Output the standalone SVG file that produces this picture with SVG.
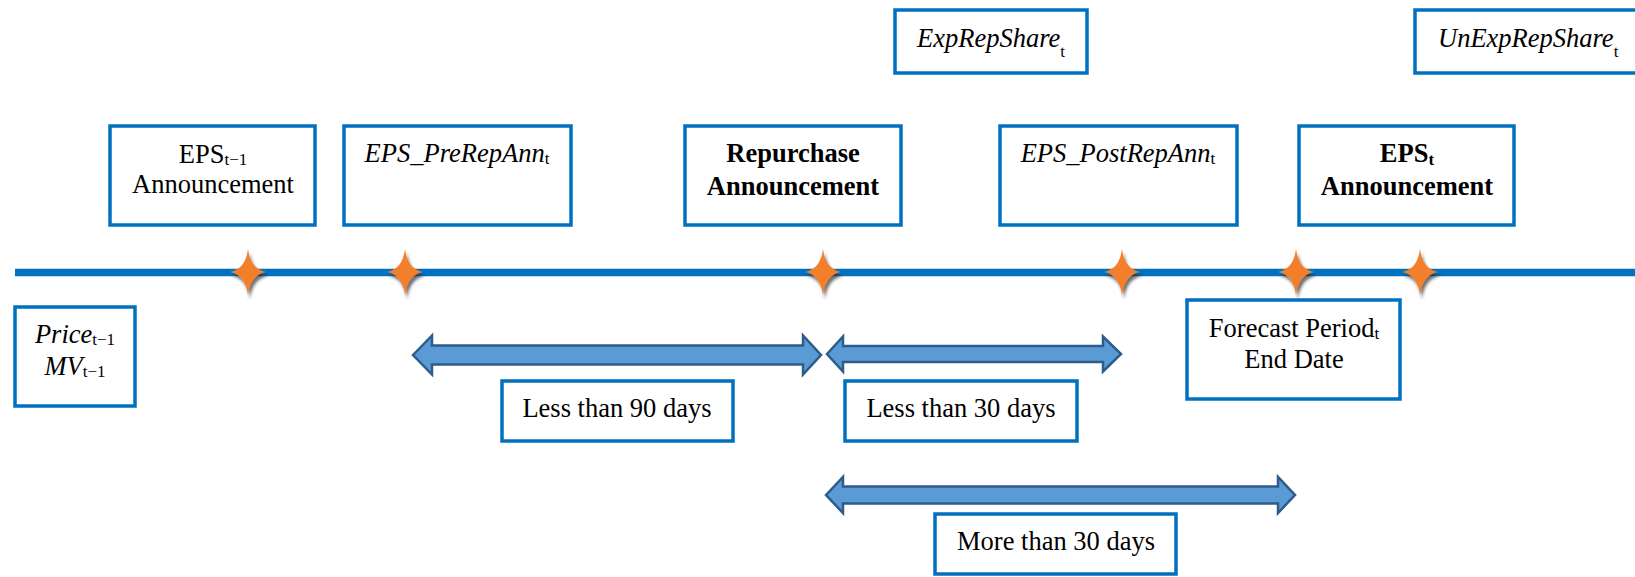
<svg xmlns="http://www.w3.org/2000/svg" width="1635" height="577" viewBox="0 0 1635 577">
<style>
.box{fill:#fff;stroke:#0070C0;stroke-width:3.5}
.t{font-family:"Liberation Serif","Times New Roman",serif;font-size:26.5px;fill:#000;text-anchor:middle}
.i{font-style:italic}
.b{font-weight:bold}
.sub{font-size:17px;font-style:normal}
.arr{fill:#5B9BD5;stroke:#2E5C8A;stroke-width:2.5;stroke-linejoin:miter}
.star{fill:#F47F2A;filter:url(#sh)}
</style>
<defs>
<filter id="sh" x="-50%" y="-50%" width="200%" height="200%">
<feDropShadow dx="2" dy="4" stdDeviation="1.8" flood-color="#222" flood-opacity="0.65"/>
</filter>
<path id="st" d="M0,-23 Q2.5,-3 18,0 Q2.5,3 0,23 Q-2.5,3 -18,0 Q-2.5,-3 0,-23Z"/>
</defs>
<g id="timeline">
<line x1="15" y1="272.5" x2="1635" y2="272.5" stroke="#0070C0" stroke-width="7.5"/>
</g>
<g id="stars">
<use href="#st" class="star" x="248" y="272"/>
<use href="#st" class="star" x="405" y="272"/>
<use href="#st" class="star" x="823" y="272"/>
<use href="#st" class="star" x="1122" y="272"/>
<use href="#st" class="star" x="1296" y="272"/>
<use href="#st" class="star" x="1420" y="272"/>
</g>
<g id="connectors">
<polygon class="arr" points="413,355 432,335.5 432,345.5 803,345.5 803,335.5 821,355 803,374.5 803,364.5 432,364.5 432,374.5"/>
<polygon class="arr" points="827,354 843,336.5 843,346 1103,346 1103,336.5 1121,354 1103,371.5 1103,362 843,362 843,371.5"/>
<polygon class="arr" points="826,495 843,477 843,486.5 1278,486.5 1278,477 1295,495 1278,513 1278,503.5 843,503.5 843,513"/>
</g>
<g id="eps-prev">
<rect class="box" x="110" y="126" width="205" height="99"/>
<text class="t" x="213" y="163">EPS<tspan class="sub" dy="2">t−1</tspan></text>
<text class="t" x="213" y="193">Announcement</text>
</g>
<g id="eps-prerepann">
<rect class="box" x="344" y="126" width="227" height="99"/>
<text class="t i" x="457" y="162">EPS_PreRepAnn<tspan class="sub" dy="2">t</tspan></text>
</g>
<g id="repurchase">
<rect class="box" x="685" y="126" width="216" height="99"/>
<text class="t b" x="793" y="162">Repurchase</text>
<text class="t b" x="793" y="195">Announcement</text>
</g>
<g id="eps-postrepann">
<rect class="box" x="1000" y="126" width="237" height="99"/>
<text class="t i" x="1118" y="162">EPS_PostRepAnn<tspan class="sub" dy="2">t</tspan></text>
</g>
<g id="eps-t">
<rect class="box" x="1299" y="126" width="215" height="99"/>
<text class="t b" x="1407" y="162">EPS<tspan class="sub" dy="3" font-weight="bold">t</tspan></text>
<text class="t b" x="1407" y="195">Announcement</text>
</g>
<g id="exprepshare">
<rect class="box" x="895" y="10" width="192" height="63"/>
<text class="t i" x="991" y="47">ExpRepShare<tspan class="sub" dy="10">t</tspan></text>
</g>
<g id="unexprepshare">
<rect class="box" x="1415" y="10" width="240" height="63"/>
<text class="t i" x="1438" y="47" text-anchor="start" style="text-anchor:start">UnExpRepShare<tspan class="sub" dy="10">t</tspan></text>
</g>
<g id="price">
<rect class="box" x="15" y="307" width="120" height="99"/>
<text class="t i" x="75" y="343">Price<tspan class="sub" dy="2">t−1</tspan></text>
<text class="t i" x="75" y="375">MV<tspan class="sub" dy="2">t−1</tspan></text>
</g>
<g id="forecast">
<rect class="box" x="1187" y="300" width="213" height="99"/>
<text class="t" x="1294" y="337">Forecast Period<tspan class="sub" dy="2">t</tspan></text>
<text class="t" x="1294" y="368">End Date</text>
</g>
<g id="less90">
<rect class="box" x="502" y="381" width="231" height="60"/>
<text class="t" x="617" y="417">Less than 90 days</text>
</g>
<g id="less30">
<rect class="box" x="845" y="381" width="232" height="60"/>
<text class="t" x="961" y="417">Less than 30 days</text>
</g>
<g id="more30">
<rect class="box" x="935" y="514" width="241" height="60"/>
<text class="t" x="1056" y="550">More than 30 days</text>
</g>
</svg>
